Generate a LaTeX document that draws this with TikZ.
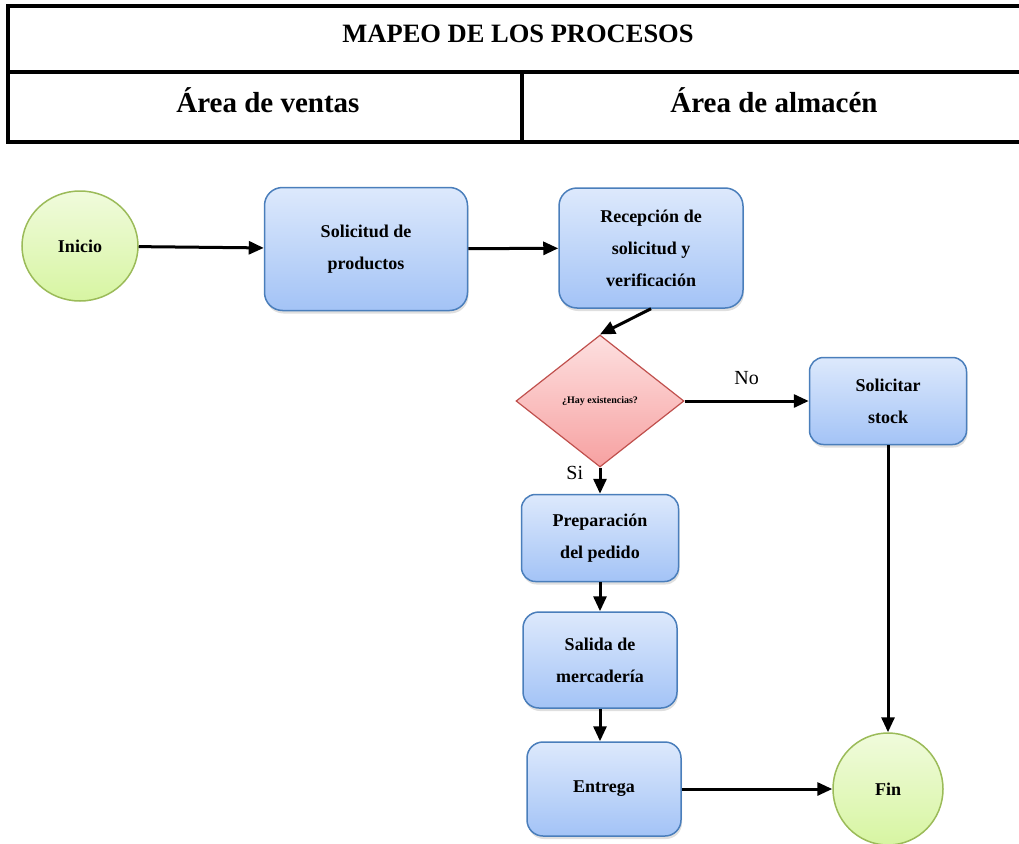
\documentclass[tikz,border=0pt]{standalone}
\usepackage{fontspec}
\setmainfont{Liberation Serif}
\usetikzlibrary{shapes.geometric,arrows.meta,shadows}
\definecolor{azularriba}{HTML}{DDE9FC}
\definecolor{azulabajo}{HTML}{A3C3F6}
\definecolor{azulborde}{HTML}{4A7EBB}
\definecolor{verdearriba}{HTML}{F0FBDC}
\definecolor{verdeabajo}{HTML}{D7F5A2}
\definecolor{verdeborde}{HTML}{9BBB59}
\definecolor{rosaarriba}{HTML}{FDE0E0}
\definecolor{rosaabajo}{HTML}{F7A1A1}
\definecolor{rosaborde}{HTML}{C0504D}
\tikzset{
  proceso/.style={draw=azulborde, line width=1.5pt, rounded corners=18pt,
    top color=azularriba, bottom color=azulabajo, align=center, inner sep=0pt,
    drop shadow={opacity=0.25,shadow xshift=1pt,shadow yshift=-3pt},
    font=\bfseries\fontsize{18}{32}\selectfont},
  extremo/.style={ellipse, draw=verdeborde, line width=1.5pt,
    top color=verdearriba, bottom color=verdeabajo, inner sep=0pt,
    font=\bfseries\fontsize{18}{32}\selectfont},
  decision/.style={diamond, draw=rosaborde, line width=1.2pt, aspect=1.27,
    top color=rosaarriba, bottom color=rosaabajo, inner sep=0pt,
    minimum width=168pt, minimum height=132pt,
    font=\bfseries\fontsize{10}{12}\selectfont},
  flecha/.style={-{Triangle[length=15pt,width=13pt]}, line width=3pt},
  cabecera/.style={font=\bfseries\fontsize{29}{34}\selectfont, anchor=base}
}
\begin{document}
\begin{tikzpicture}[x=1pt,y=-1pt]
  \useasboundingbox (0,0) rectangle (1019,843);
  % cabecera
  \draw[line width=4.5pt] (1030,6) -- (8,6) -- (8,142) -- (1030,142);
  \draw[line width=4.5pt] (8,72) -- (1030,72);
  \draw[line width=4pt] (522,72) -- (522,142);
  \node[cabecera, font=\bfseries\fontsize{26.5}{30}\selectfont] (titulo) at (518,42) {MAPEO DE LOS PROCESOS};
  \node[cabecera] (ventas) at (268,112) {Área de ventas};
  \node[cabecera] (almacen) at (774,112) {Área de almacén};
  % nodos
  \node[extremo, minimum width=116pt, minimum height=110pt] (inicio) at (80,246) {Inicio};
  \node[proceso, minimum width=203pt, minimum height=123pt] (solicitud) at (366,249) {Solicitud de\\productos};
  \node[proceso, minimum width=184pt, minimum height=120pt] (recepcion) at (651,248) {Recepción de\\solicitud y\\verificación};
  \node[decision] (hay) at (600,401) {¿Hay existencias?};
  \node[proceso, minimum width=157pt, minimum height=87pt, rounded corners=14pt] (stock) at (888,401) {Solicitar\\stock};
  \node[proceso, minimum width=157pt, minimum height=87pt, rounded corners=14pt] (prep) at (600,538) {Preparación\\del pedido};
  \node[proceso, minimum width=154pt, minimum height=96pt, rounded corners=16pt] (salida) at (600,660) {Salida de\\mercadería};
  \node[proceso, minimum width=154pt, minimum height=94pt, rounded corners=16pt] (entrega) at (604,789) {Entrega};
  \node[extremo, minimum width=110pt, minimum height=112pt] (fin) at (888,789) {Fin};
  % flechas
  \draw[flecha] (inicio) -- (solicitud);
  \draw[flecha] (solicitud) -- (recepcion);
  \draw[flecha] (recepcion.south) -- (hay.north);
  \draw[flecha] (hay.east) -- node[above=11pt, font=\fontsize{20}{24}\selectfont]{No} (stock.west);
  \draw[flecha] (hay.south) -- node[left=12pt, pos=0.2, font=\fontsize{20}{24}\selectfont]{Si} (prep.north);
  \draw[flecha] (prep) -- (salida);
  \draw[flecha] (salida.south) -- (salida.south |- entrega.north);
  \draw[flecha] (stock) -- (fin);
  \draw[flecha] (entrega) -- (fin);
\end{tikzpicture}
\end{document}
